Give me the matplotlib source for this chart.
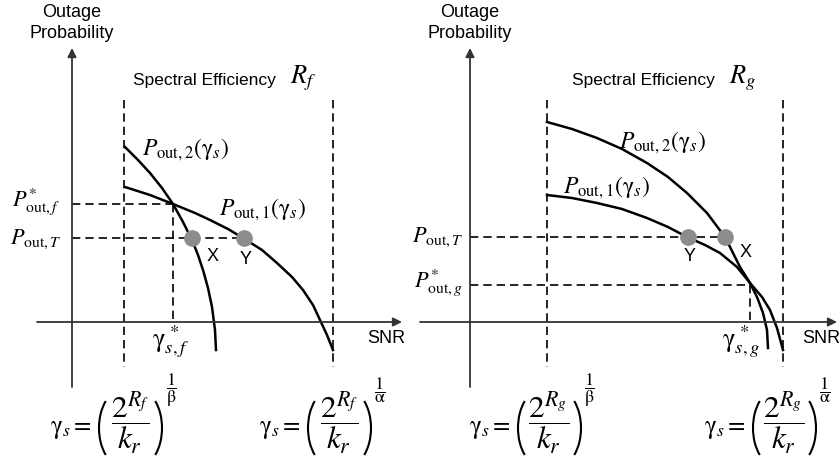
import matplotlib

matplotlib.use('Agg')
import matplotlib.pyplot as plt
from matplotlib.patches import Arc

plt.rcParams['font.family'] = ['Liberation Sans', 'DejaVu Sans']
plt.rcParams['mathtext.fontset'] = 'stix'

# schematic curves (pixel coords, y grows downwards)
left_p2_x = [125, 138, 150, 162, 173, 183, 192, 198, 203, 208, 212, 215, 216]
left_p2_y = [147, 160, 173, 188, 204, 222, 240, 255, 270, 288, 307, 330, 350]
left_p1_x = [125, 150, 173, 195, 210, 228, 243, 262, 277, 292, 303, 313, 320, 327, 333]
left_p1_y = [187, 195, 204, 213, 220, 229, 238, 250, 263, 277, 290, 305, 320, 335, 350]

right_p2_x = [547, 572, 597, 622, 647, 668, 687, 707, 725, 740, 750, 757, 763, 767, 768]
right_p2_y = [122, 129, 138, 149, 163, 177, 193, 213, 237, 267, 283, 297, 313, 330, 348]
right_p1_x = [547, 572, 597, 622, 647, 668, 687, 705, 720, 737, 750, 762, 770, 777, 783]
right_p1_y = [195, 198, 203, 209, 218, 227, 237, 245, 253, 267, 283, 297, 310, 328, 350]

# marked points and levels
left_x_pt, left_y_pt, left_cross = (192, 238), (244, 238), (173, 204)
right_x_pt, right_y_pt, right_cross = (725, 237), (688, 237), (750, 285)

fig = plt.figure(figsize=(8.4, 4.65), dpi=100)
ax = fig.add_axes([0, 0, 1, 1])
ax.set_xlim(0, 840)
ax.set_ylim(465, 0)
ax.axis('off')

axis_col = '#333333'
dash = dict(color='black', lw=1.2, ls=(0, (5, 3)))


def arrow(x0, y0, x1, y1):
    ax.annotate('', xy=(x1, y1), xytext=(x0, y0),
                arrowprops=dict(arrowstyle='-|>', color=axis_col, lw=1.3,
                                mutation_scale=13, shrinkA=0, shrinkB=0))


def formula(x0, R, exp):
    # gamma_s = ( 2^R / k_r )^(1/exp), built piece by piece
    ax.text(x0, 429, r'$\mathrm{\gamma}_s=$', ha='left', va='center', fontsize=18)
    ax.add_patch(Arc((x0 + 72, 428), 46, 76, theta1=121, theta2=239,
                     color='black', lw=1.5))
    ax.text(x0 + 80, 423, r'$\dfrac{2^{R_{%s}}}{k_r}$' % R,
            ha='center', va='center', fontsize=22.5)
    ax.add_patch(Arc((x0 + 89, 428), 46, 76, theta1=-59, theta2=59,
                     color='black', lw=1.5))
    ax.text(x0 + 121, 390, r'$\dfrac{1}{\mathrm{%s}}$' % exp,
            ha='center', va='center', fontsize=13)


def panel(ox, yax, xstart, xend, vlines, fx, R):
    # axes
    arrow(yax, 387, yax, 48)
    arrow(xstart, 322, xend, 322)
    ax.text(yax, 17, 'Outage', ha='center', va='baseline', fontsize=13)
    ax.text(yax, 38, 'Probability', ha='center', va='baseline', fontsize=13)
    ax.text(xend - 16, 338, 'SNR', ha='center', va='center', fontsize=13)
    for vx in vlines:
        ax.plot([vx, vx], [100, 367], **dash)
    ax.text(ox, 80, 'Spectral Efficiency', ha='left', va='center', fontsize=12.5)
    ax.text(ox + 157, 78, '$R_{%s}$' % R, ha='left', va='center', fontsize=19)
    for x0, exp in zip(fx, [r'\beta', r'\alpha']):
        formula(x0, R, exp)


panel(133, 72, 37, 402, [124, 333], [50, 259], 'f')
panel(572, 470, 420, 837, [547, 783], [469, 704], 'g')

# left panel curves
ax.plot(left_p2_x, left_p2_y, color='black', lw=1.8)
ax.plot(left_p1_x, left_p1_y, color='black', lw=1.8)
ax.plot([72, left_cross[0]], [left_cross[1]] * 2, **dash)
ax.plot([left_cross[0]] * 2, [left_cross[1], 322], **dash)
ax.plot([72, left_y_pt[0]], [left_y_pt[1]] * 2, **dash)
for p in (left_x_pt, left_y_pt):
    ax.plot(*p, 'o', ms=11, color='#8c8c8c', zorder=5)
ax.text(213, 256, 'X', ha='center', va='center', fontsize=13)
ax.text(246, 259, 'Y', ha='center', va='center', fontsize=13)
ax.text(36, 202, r'$P^{*}_{\mathrm{out},f}$', ha='center', va='center', fontsize=16)
ax.text(36, 239, r'$P_{\mathrm{out},T}$', ha='center', va='center', fontsize=16)
ax.text(186, 150, r'$P_{\mathrm{out},2}(\mathrm{\gamma}_s)$', ha='center', va='center', fontsize=17)
ax.text(263, 210, r'$P_{\mathrm{out},1}(\mathrm{\gamma}_s)$', ha='center', va='center', fontsize=17)
ax.text(171, 342, r'$\mathrm{\gamma}^{\,*}_{s,f}$', ha='center', va='center', fontsize=19)

# right panel curves
ax.plot(right_p2_x, right_p2_y, color='black', lw=1.8)
ax.plot(right_p1_x, right_p1_y, color='black', lw=1.8)
ax.plot([470, right_cross[0]], [right_cross[1]] * 2, **dash)
ax.plot([right_cross[0]] * 2, [right_cross[1], 322], **dash)
ax.plot([470, right_x_pt[0]], [right_x_pt[1]] * 2, **dash)
for p in (right_x_pt, right_y_pt):
    ax.plot(*p, 'o', ms=11, color='#8c8c8c', zorder=5)
ax.text(746, 252, 'X', ha='center', va='center', fontsize=13)
ax.text(690, 256, 'Y', ha='center', va='center', fontsize=13)
ax.text(438, 237, r'$P_{\mathrm{out},T}$', ha='center', va='center', fontsize=16)
ax.text(438, 283, r'$P^{*}_{\mathrm{out},g}$', ha='center', va='center', fontsize=16)
ax.text(663, 143, r'$P_{\mathrm{out},2}(\mathrm{\gamma}_s)$', ha='center', va='center', fontsize=17)
ax.text(607, 188, r'$P_{\mathrm{out},1}(\mathrm{\gamma}_s)$', ha='center', va='center', fontsize=17)
ax.text(741, 342, r'$\mathrm{\gamma}^{\,*}_{s,g}$', ha='center', va='center', fontsize=19)

fig.savefig('out.png', dpi=100, facecolor='white')
